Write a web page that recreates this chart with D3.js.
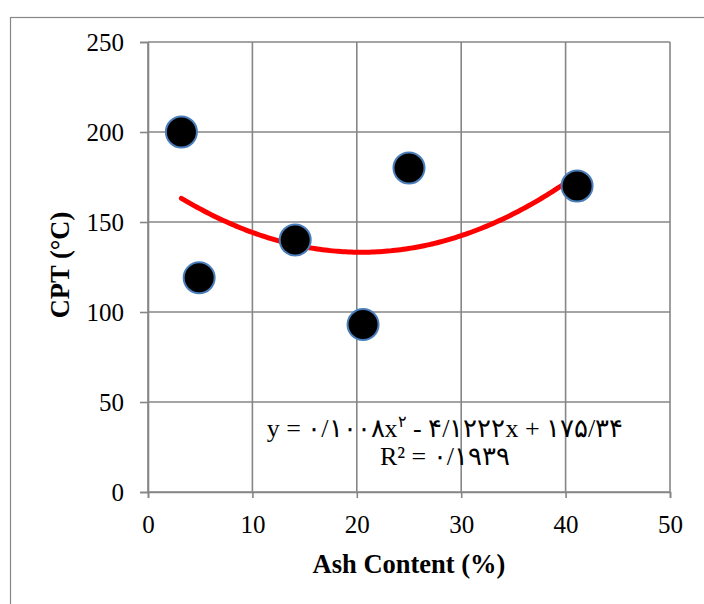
<!DOCTYPE html>
<html><head><meta charset="utf-8">
<script src="https://cdn.jsdelivr.net/npm/d3@7"></script>
<style>body{margin:0;background:#fff}</style>
</head><body>
<script>
const ashContent = [3.2, 4.9, 14.1, 20.6, 25.0, 41.1];
const cpt = [200, 119, 140, 93, 180, 170];
const xTicks = [0, 10, 20, 30, 40, 50];
const yTicks = [0, 50, 100, 150, 200, 250];
const trendCoef = [0.1008, -4.1222, 175.34];
const eqParts = ["y = ۰/۱۰۰۸x", "۲", " - ۴/۱۲۲۲x + ۱۷۵/۳۴"];
const eqLine2 = "R² = ۰/۱۹۳۹";
const xTitle = "Ash Content (%)";
const yTitle = "CPT (°C)";

const W = 704, H = 604;
const svg = d3.select("body").append("svg").attr("width", W).attr("height", H);
svg.append("rect").attr("x", 10.5).attr("y", 17.5).attr("width", 720).attr("height", 620)
  .attr("fill", "#fff").attr("stroke", "#868686").attr("stroke-width", 1.2);

const x = d3.scaleLinear().domain([0, 50]).range([148, 670]);
const y = d3.scaleLinear().domain([0, 250]).range([492, 42]);
const grid = "#868686";

svg.append("g").selectAll("line").data(xTicks).join("line")
  .attr("x1", d => x(d)).attr("x2", d => x(d)).attr("y1", y(0)).attr("y2", y(250))
  .attr("stroke", grid).attr("stroke-width", 1.6);
svg.append("g").selectAll("line").data(yTicks).join("line")
  .attr("x1", x(0)).attr("x2", x(50)).attr("y1", d => y(d)).attr("y2", d => y(d))
  .attr("stroke", grid).attr("stroke-width", 1.6);

const font = "'Liberation Serif','Times New Roman',serif";
const xAxis = svg.append("g").attr("transform", `translate(0,${y(0)})`)
  .call(d3.axisBottom(x).tickValues(xTicks).tickSize(6).tickPadding(17));
const yAxis = svg.append("g").attr("transform", `translate(${x(0)},0)`)
  .call(d3.axisLeft(y).tickValues(yTicks).tickSize(8).tickPadding(16));
[xAxis, yAxis].forEach(a => {
  a.select(".domain").attr("stroke", grid).attr("stroke-width", 1.6);
  a.selectAll(".tick line").attr("stroke", grid).attr("stroke-width", 1.6);
  a.selectAll("text").attr("font-family", font).attr("font-size", 25).attr("fill", "#000");
});

const xs = d3.range(d3.min(ashContent), d3.max(ashContent) + 0.001, 0.25);
const f = v => trendCoef[0] * v * v + trendCoef[1] * v + trendCoef[2];
svg.append("path").datum(xs)
  .attr("d", d3.line().x(d => x(d)).y(d => y(f(d))).curve(d3.curveMonotoneX))
  .attr("fill", "none").attr("stroke", "#ff0000").attr("stroke-width", 5).attr("stroke-linecap", "round");

svg.append("g").selectAll("circle").data(ashContent).join("circle")
  .attr("cx", d => x(d)).attr("cy", (d, i) => y(cpt[i])).attr("r", 15.5)
  .attr("fill", "#000").attr("stroke", "#4a7ebb").attr("stroke-width", 2);

const eq = svg.append("text").attr("x", 445).attr("y", 437).attr("text-anchor", "middle")
  .attr("font-family", font).attr("font-size", 26).attr("direction", "ltr");
eq.append("tspan").text(eqParts[0]);
eq.append("tspan").attr("font-size", 16).attr("dy", -10).text(eqParts[1]);
eq.append("tspan").attr("dy", 10).text(eqParts[2]);
svg.append("text").attr("x", 445).attr("y", 465).attr("text-anchor", "middle")
  .attr("font-family", font).attr("font-size", 26).attr("direction", "ltr").text(eqLine2);

svg.append("text").attr("x", 409).attr("y", 573).attr("text-anchor", "middle")
  .attr("font-family", font).attr("font-size", 26.5).attr("font-weight", "bold").text(xTitle);
svg.append("text").attr("transform", "translate(69,265) rotate(-90)").attr("text-anchor", "middle")
  .attr("font-family", font).attr("font-size", 26.5).attr("font-weight", "bold").text(yTitle);
</script>
</body></html>
